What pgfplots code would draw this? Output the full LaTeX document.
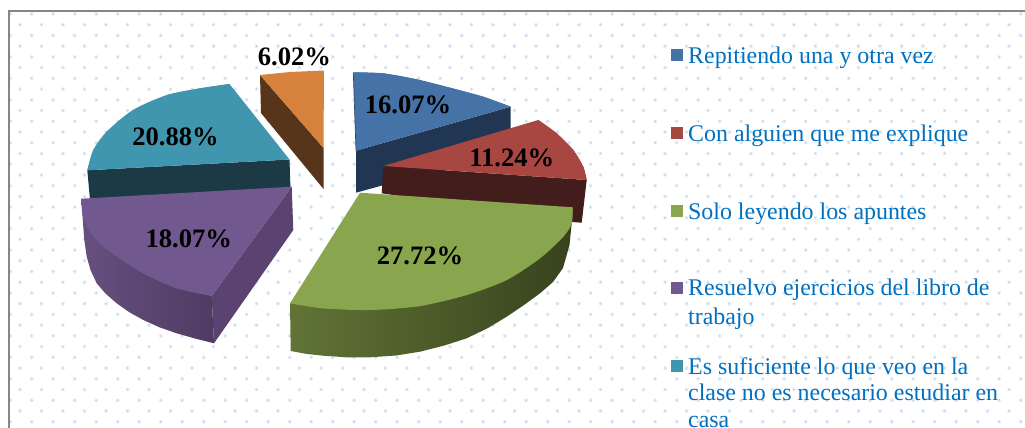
\documentclass[border=0pt]{standalone}
\usepackage{pgfplots}
\pgfplotsset{compat=1.18}
\usepackage{fontspec}
\setmainfont{Liberation Serif}
\definecolor{bluetop}{RGB}{69,114,167}
\definecolor{blueside}{RGB}{32,54,82}
\definecolor{redtop}{RGB}{168,70,66}
\definecolor{redside}{RGB}{67,29,27}
\definecolor{greentop}{RGB}{137,165,78}
\definecolor{greenL}{RGB}{97,116,54}
\definecolor{greenD}{RGB}{55,66,29}
\definecolor{purptop}{RGB}{113,88,143}
\definecolor{purpside}{RGB}{91,67,113}
\definecolor{purpL}{RGB}{101,80,128}
\definecolor{purpD}{RGB}{79,59,98}
\definecolor{tealtop}{RGB}{65,150,175}
\definecolor{tealside}{RGB}{27,58,69}
\definecolor{orgtop}{RGB}{215,130,60}
\definecolor{orgside}{RGB}{87,52,26}
\definecolor{legtext}{RGB}{0,112,192}
\definecolor{dotc}{RGB}{196,216,240}
\definecolor{dotd}{RGB}{233,240,250}
\definecolor{framec}{RGB}{134,134,134}
\newcommand\lab[3]{\node[anchor=base,font=\fontsize{26.6}{30}\selectfont\bfseries,text=black,inner sep=0pt] at (axis cs:#1,#2) {#3};}
\newcommand\legt[3]{\node[anchor=base west,font=\fontsize{23.9}{28}\selectfont,text=legtext,inner sep=0pt] at (axis cs:#1,#2) {#3};}
\begin{document}
\begin{tikzpicture}[x=1pt,y=1pt]
\path[clip,use as bounding box] (0,0) rectangle (1025,428);
\fill[white] (0,0) rectangle (1025,428);
% dotted background texture of the chart area
\foreach \r in {0,...,38}{
  \pgfmathsetmacro\yy{428-14-10.73*\r}
  \pgfmathsetmacro\off{mod(\r,2)==0 ? 10.2 : 20}
  \foreach \c in {0,...,47}{
    \pgfmathsetmacro\xx{\off+21.5*\c}
    \fill[dotd] (\xx,\yy) circle (2);
    \fill[dotc] (\xx,\yy) circle (1.1);
  }
}
\draw[framec,line width=1.6pt] (9,-2) -- (9,417) -- (1027,417);
\begin{axis}[at={(0,0)},anchor=south west,scale only axis,width=1025pt,height=428pt,
  xmin=0,xmax=1025,ymin=0,ymax=428,y dir=reverse,hide axis,clip=false]
% teal slice 20.88
\addplot[draw=none,fill=tealside] coordinates {(87.3,170.3)(289.5,159.5)(290.5,190)(90,200)};
\addplot[draw=none,fill=tealtop] coordinates {(289.5,159.5)(87.3,170.3)(93.3,150)(106.7,131.7)(133,110)(167,95)(200,88.3)(229.5,84)};
\addplot[smooth,draw=none,fill=tealtop] coordinates {(87.3,170.3)(93.3,150)(106.7,131.7)(133,110)(167,95)(200,88.3)(229.5,84)};
% orange slice 6.02
\addplot[draw=none,fill=orgside] coordinates {(260,75)(323.5,148)(323.5,189)(261,113)};
\addplot[draw=none,fill=orgtop] coordinates {(323.5,148)(260,75)(290,72)(324,70.5)};
% blue slice 16.07
\addplot[draw=none,fill=blueside] coordinates {(356,150.7)(510.7,106.7)(510.3,150)(356,192.7)};
\addplot[draw=none,fill=bluetop] coordinates {(356,150.7)(353.3,72.3)(383.3,73.3)(416.7,79.3)(450,87.7)(483.3,96.7)(510.7,106.7)};
\addplot[smooth,draw=none,fill=bluetop] coordinates {(353.3,72.3)(383.3,73.3)(416.7,79.3)(450,87.7)(483.3,96.7)(510.7,106.7)};
\addplot[line width=0.7pt,color=blueside!70!bluetop] coordinates {(353.3,72.3)(356,150.7)};
% red slice 11.24
\addplot[draw=none,fill=redside] coordinates {(383.3,166)(586.7,180)(581.7,222.7)(572,222)(381.7,193.3)};
\addplot[draw=none,fill=redtop] coordinates {(383.3,166)(538.3,120)(556.7,133.3)(573.3,150)(583.3,166.7)(586.7,180)};
\addplot[smooth,draw=none,fill=redtop] coordinates {(538.3,120)(556.7,133.3)(573.3,150)(583.3,166.7)(586.7,180)};
% purple slice 18.07
\addplot[draw=none,fill=purpside] coordinates {(291.7,186.7)(293.3,230)(214,343.3)(211.7,296)};
\addplot[draw=none,left color=purpL,right color=purpD] coordinates {(211.7,296)(214,343.3)(195,338.5)(176.7,333.3)(160,327.5)(143.3,320)(129,312)(116.7,303.3)(105.5,293.5)(96.7,283.3)(90.5,270)(86.7,256.7)(84.3,240)(83,223)(81.3,198.7)};
\addplot[draw=none,fill=purptop] coordinates {(291.7,186.7)(81.3,198.7)(83.3,218.3)(93.3,236.7)(110,251.7)(143.3,273.3)(176.7,288.3)(211.7,296)};
\addplot[smooth,draw=none,fill=purptop] coordinates {(81.3,198.7)(83.3,218.3)(93.3,236.7)(110,251.7)(143.3,273.3)(176.7,288.3)(211.7,296)};
% green slice 27.72
\addplot[draw=none,left color=greenL,middle color=greenD,right color=greenD] coordinates {(290,303.3)(290.7,351)(307,354)(323.3,355.7)(346,357.3)(370,357.3)(396,355.5)(420,351.7)(444,345.6)(466.7,338.3)(488,328)(506.7,316.7)(524,305)(540,293.3)(553,282)(563,268)(569.5,245)(571.7,223.3)(572.7,207.3)};
\addplot[draw=none,fill=greentop] coordinates {(360,192.7)(572.7,207.3)(571.7,223.3)(563.3,236.7)(540,258.3)(506.7,280)(466.7,295)(420,306)(370,310)(323.3,308.3)(290,303.3)};
\addplot[smooth,draw=none,fill=greentop] coordinates {(572.7,207.3)(571.7,223.3)(563.3,236.7)(540,258.3)(506.7,280)(466.7,295)(420,306)(370,310)(323.3,308.3)(290,303.3)};
% legend keys
\addplot[draw=none,fill=bluetop] coordinates {(671,49)(683,49)(683,61.3)(671,61.3)};
\addplot[draw=none,fill=redtop] coordinates {(671,127)(683,127)(683,139)(671,139)};
\addplot[draw=none,fill=greentop] coordinates {(671,205)(683,205)(683,217)(671,217)};
\addplot[draw=none,fill=purptop] coordinates {(671,282.3)(683,282.3)(683,294.3)(671,294.3)};
\addplot[draw=none,fill=tealtop] coordinates {(671,360)(683,360)(683,372)(671,372)};
\lab{294.5}{66}{6.02\%}
\lab{175.5}{145}{20.88\%}
\lab{408}{113.3}{16.07\%}
\lab{511.8}{166.7}{11.24\%}
\lab{420}{264}{27.72\%}
\lab{188.8}{247.7}{18.07\%}
\legt{688}{63.3}{Repitiendo una y otra vez}
\legt{688}{141.3}{Con alguien que me explique}
\legt{688}{219}{Solo leyendo los apuntes}
\legt{688}{295.7}{Resuelvo ejercicios del libro de}
\legt{688}{324}{trabajo}
\legt{688}{374}{Es suficiente lo que veo en la}
\legt{688}{400.7}{clase no es necesario estudiar en}
\legt{688}{427.2}{casa}
\end{axis}
\end{tikzpicture}
\end{document}
